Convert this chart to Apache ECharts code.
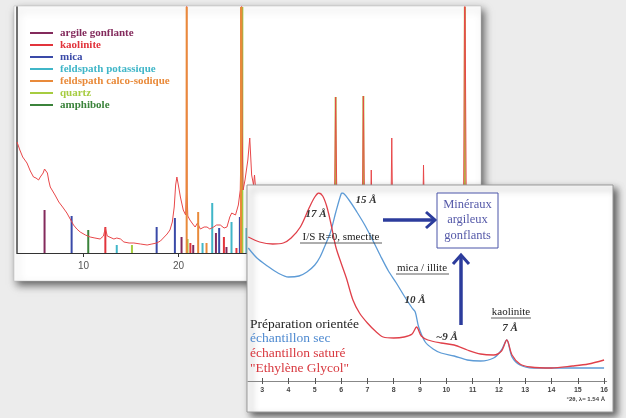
<!DOCTYPE html>
<html><head><meta charset="utf-8">
<script src="https://cdn.jsdelivr.net/npm/echarts@6/dist/echarts.min.js"></script>
<style>html,body{margin:0;padding:0;background:#ececec;}#c{width:626px;height:418px;}</style>
</head><body><div id="c"></div>
<script>
// ---------- Panel 1 : powder pattern (°2θ, intensity in arbitrary units) ----------
const p1Ticks = [10, 20, 30, 40, 50];
const p1Pattern = [[3.0,111],[3.3,103],[3.6,96],[4.05,90],[4.4,82],[4.74,76],[5.0,75],[5.27,73],[5.45,76],[5.6,77],[5.75,80],[5.9,84],[6.05,86],[6.2,80],[6.35,72],[6.5,66],[7.0,58],[7.4,51],[7.8,46],[8.25,40],[8.6,34],[8.95,28],[9.3,24],[9.65,21],[10.2,18],[10.7,16],[11.2,15],[11.75,14],[12.1,17],[12.3,25],[12.5,17],[12.7,15],[13.2,14],[13.5,15],[13.7,17],[13.9,14],[14.25,11],[14.8,10],[15.3,10],[16.0,9],[16.7,8],[17.2,9],[17.7,10],[18.1,12],[18.4,15],[18.8,19],[19.1,23],[19.35,31],[19.55,46],[19.7,68],[19.83,76],[20.0,67],[20.2,56],[20.5,43],[20.75,38],[20.82,60],[20.86,300],[20.9,60],[20.98,37],[21.2,33],[21.5,29],[21.75,26],[22.0,30],[22.3,24],[22.7,26],[23.0,26],[23.3,24],[23.7,26],[24.0,28],[24.4,28],[24.8,25],[25.1,26],[25.4,36],[25.6,40],[25.8,41],[26.0,38],[26.3,48],[26.5,63],[26.6,120],[26.64,300],[26.7,120],[26.8,63],[27.0,73],[27.3,93],[27.5,115],[27.7,78],[27.9,68],[28.0,78],[28.2,55],[28.6,35],[29.5,30],[31,28],[33,27],[35,26],[36.4,28],[36.54,156],[36.7,28],[38,26],[39.35,28],[39.46,157],[39.6,28],[40.2,28],[40.29,83],[40.4,28],[42.35,27],[42.45,115],[42.55,27],[45.7,26],[45.79,88],[45.9,26],[50.0,26],[50.14,300],[50.3,26],[51.5,25]];
const argileGonflante = [[5.9,43],[20.32,16],[21.55,8],[23.94,20],[25.05,6]];
const kaolinite = [[12.3,26],[21.25,10],[24.78,16],[26.1,5]];
const mica = [[8.75,37],[17.7,26],[19.62,35],[24.28,25],[26.46,36]];
const feldspathK = [[13.5,8],[22.53,10],[23.55,50],[25.58,31],[27.16,25]];
const feldspathCaNa = [[20.86,300],[22.07,41],[22.95,10],[26.58,300]];
const quartz = [[15.1,8],[20.95,14],[26.72,300],[36.54,156],[39.46,157],[50.14,300]];
const amphibole = [[10.5,23]];

// ---------- Panel 2 : oriented preparation (°2θ, intensity a.u.) ----------
const p2Ticks = [3,4,5,6,7,8,9,10,11,12,13,14,15,16];
const echantillonSec = [[2.47,133],[2.8,123],[3.2,115],[3.6,108],[4.0,104],[4.4,105],[4.7,109],[5.0,116],[5.2,124],[5.4,136],[5.6,149],[5.8,169],[6.0,187],[6.05,188],[6.3,181],[6.6,169],[6.9,156],[7.2,141],[7.5,125],[7.8,110],[8.1,98],[8.4,85],[8.7,73],[8.82,69],[8.95,54],[9.2,39],[9.5,32],[9.8,28],[10.3,25],[10.8,21],[11.3,20],[11.8,23],[12.1,31],[12.3,41],[12.5,24],[12.8,16],[13.3,13],[14.0,13],[15.0,13],[16.0,13]];
const echantillonGlycol = [[2.47,144],[2.9,139],[3.4,137],[3.8,138],[4.1,143],[4.45,154],[4.8,174],[5.0,184],[5.15,188],[5.3,185],[5.45,175],[5.6,159],[5.8,134],[6.0,118],[6.2,103],[6.45,81],[6.7,68],[7.0,58],[7.3,50],[7.6,44],[8.0,43],[8.4,44],[8.7,47],[8.87,54],[9.05,45],[9.3,41],[9.8,38],[10.3,36],[10.8,31],[11.3,27],[11.8,26],[12.1,30],[12.3,41],[12.5,26],[12.8,17],[13.2,14],[14.0,13],[14.8,15],[15.4,17],[16.0,21]];

const SERIF = '"Liberation Serif","DejaVu Serif",serif';
const NAVY = '#2c3c9c';
const colors = {
  argile:'#832a5c', kaol:'#e2343c', mica:'#3a4aa8', fk:'#40b6c8', fcs:'#e98a3a', qz:'#a6cc40', amph:'#3b833b'
};

function sticks(name, data, color, z) {
  return {type:'bar', name:name, data:data, xAxisIndex:0, yAxisIndex:0, barWidth:2, barGap:'-100%',
          itemStyle:{color:color}, z:z || 3, clip:true, animation:false, silent:true};
}

const chart = echarts.init(document.getElementById('c'), null, {renderer:'canvas'});

const annoText = (x, y, text, extra) => Object.assign({type:'text', x:x, y:y, z:30,
  style:Object.assign({text:text, font:'italic bold 11px ' + SERIF, fill:'#333', align:'center', verticalAlign:'middle'}, extra || {})});

chart.setOption({
  animation:false,
  backgroundColor:'#ececec',
  grid:[
    {left:17, top:7, width:460.75, height:246},
    {left:248, top:193, width:358.7, height:188}
  ],
  xAxis:[
    {gridIndex:0, type:'value', min:3, max:51.5, z:2,
     axisLine:{lineStyle:{color:'#333', width:1.2}},
     axisTick:{customValues:p1Ticks, length:4, lineStyle:{color:'#333'}},
     axisLabel:{customValues:p1Ticks, fontSize:10, color:'#555', margin:8, fontFamily:'Liberation Sans'},
     splitLine:{show:false}},
    {gridIndex:1, type:'value', min:2.46, max:16.1, z:12, position:'bottom',
     axisLine:{lineStyle:{color:'#888', width:1}},
     axisTick:{customValues:p2Ticks, length:3, lineStyle:{color:'#555'}},
     axisLabel:{customValues:p2Ticks, fontSize:7, fontWeight:'bold', color:'#444', margin:6, fontFamily:'Liberation Sans'},
     splitLine:{show:false}},
    {gridIndex:1, type:'value', min:2.46, max:16.1, z:12, position:'bottom',
     axisLine:{show:false},
     axisTick:{customValues:p2Ticks, inside:true, length:3, lineStyle:{color:'#555'}},
     axisLabel:{show:false}, splitLine:{show:false}}
  ],
  yAxis:[
    {gridIndex:0, type:'value', min:0, max:246, z:2,
     axisLine:{show:true, lineStyle:{color:'#444', width:1.5}},
     axisTick:{show:false}, axisLabel:{show:false}, splitLine:{show:false}},
    {gridIndex:1, type:'value', min:0, max:188, z:12,
     axisLine:{show:false}, axisTick:{show:false}, axisLabel:{show:false}, splitLine:{show:false}}
  ],
  legend:{
    orient:'vertical', left:25, top:22, itemWidth:23, itemHeight:2, itemGap:0, icon:'rect', z:5,
    selectedMode:false,
    textStyle:{fontFamily:SERIF, fontWeight:'bold', fontSize:11, lineHeight:12, padding:[0,0,0,2]},
    data:[
      {name:'argile gonflante', textStyle:{color:colors.argile}},
      {name:'kaolinite', textStyle:{color:colors.kaol}},
      {name:'mica', textStyle:{color:colors.mica}},
      {name:'feldspath potassique', textStyle:{color:colors.fk}},
      {name:'feldspath calco-sodique', textStyle:{color:colors.fcs}},
      {name:'quartz', textStyle:{color:colors.qz}},
      {name:'amphibole', textStyle:{color:colors.amph}}
    ]
  },
  series:[
    sticks('argile gonflante', argileGonflante, colors.argile),
    sticks('kaolinite', kaolinite, colors.kaol),
    sticks('mica', mica, colors.mica),
    sticks('feldspath potassique', feldspathK, colors.fk),
    sticks('feldspath calco-sodique', feldspathCaNa, colors.fcs, 5),
    sticks('quartz', quartz, colors.qz),
    sticks('amphibole', amphibole, colors.amph),
    {type:'line', name:'diffractogramme', data:p1Pattern, xAxisIndex:0, yAxisIndex:0, showSymbol:false,
     lineStyle:{color:'#e8484a', width:1}, z:4, clip:true, silent:true},
    {type:'line', name:'échantillon sec', data:echantillonSec, xAxisIndex:1, yAxisIndex:1, showSymbol:false, smooth:0.3,
     lineStyle:{color:'#5d9bd6', width:1.3}, z:13, silent:true},
    {type:'line', name:'échantillon saturé', data:echantillonGlycol, xAxisIndex:1, yAxisIndex:1, showSymbol:false, smooth:0.3,
     lineStyle:{color:'#e0404a', width:1.3}, z:13, silent:true}
  ],
  graphic:[
    // panel backgrounds
    {type:'rect', z:0, shape:{x:14, y:6, width:467, height:275},
     style:{fill:'#ffffff', stroke:'#bbb', lineWidth:0.5, shadowBlur:8, shadowOffsetX:3, shadowOffsetY:4, shadowColor:'rgba(0,0,0,0.6)'}},
    {type:'rect', z:10, shape:{x:247, y:185, width:366, height:227},
     style:{fill:'#ffffff', stroke:'#999', lineWidth:1, shadowBlur:7, shadowOffsetX:4, shadowOffsetY:4, shadowColor:'rgba(0,0,0,0.6)'}},
    // panel 2 annotations
    annoText(316, 214, '17 Å'),
    annoText(366, 200, '15 Å'),
    annoText(341, 237, 'I/S R=0, smectite', {font:'11px ' + SERIF, fill:'#222'}),
    {type:'line', z:30, shape:{x1:300, y1:243, x2:382, y2:243}, style:{stroke:'#333', lineWidth:0.8}},
    annoText(422, 268, 'mica / illite', {font:'11px ' + SERIF, fill:'#222'}),
    {type:'line', z:30, shape:{x1:396, y1:274, x2:449, y2:274}, style:{stroke:'#333', lineWidth:0.8}},
    annoText(415, 300, '10 Å'),
    annoText(447, 337, '~9 Å'),
    annoText(511, 312, 'kaolinite', {font:'11px ' + SERIF, fill:'#222'}),
    {type:'line', z:30, shape:{x1:491, y1:318, x2:531, y2:318}, style:{stroke:'#333', lineWidth:0.8}},
    annoText(510, 328, '7 Å'),
    // horizontal arrow
    {type:'line', z:30, shape:{x1:383, y1:220, x2:434, y2:220}, style:{stroke:NAVY, lineWidth:3.5}},
    {type:'polyline', z:30, shape:{points:[[426,212],[435,220],[426,228]]}, style:{stroke:NAVY, lineWidth:3, fill:null}},
    // vertical arrow
    {type:'line', z:30, shape:{x1:461, y1:325, x2:461, y2:256}, style:{stroke:NAVY, lineWidth:3.5}},
    {type:'polyline', z:30, shape:{points:[[453,264],[461,255],[469,264]]}, style:{stroke:NAVY, lineWidth:3, fill:null}},
    // box
    {type:'rect', z:30, shape:{x:437, y:193, width:61, height:55}, style:{fill:'#fff', stroke:'#4a54a8', lineWidth:1}},
    annoText(467.5, 205, 'Minéraux', {font:'12.5px ' + SERIF, fill:'#5458a8'}),
    annoText(467.5, 220, 'argileux', {font:'12.5px ' + SERIF, fill:'#5458a8'}),
    annoText(467.5, 236, 'gonflants', {font:'12.5px ' + SERIF, fill:'#5458a8'}),
    // sample legend text
    annoText(250, 324, 'Préparation orientée', {font:'13.5px ' + SERIF, fill:'#1e1e1e', align:'left'}),
    annoText(250, 338, 'échantillon sec', {font:'13.5px ' + SERIF, fill:'#4f8ad0', align:'left'}),
    annoText(250, 353, 'échantillon saturé', {font:'13.5px ' + SERIF, fill:'#d8383f', align:'left'}),
    annoText(250, 368, '"Ethylène Glycol"', {font:'13.5px ' + SERIF, fill:'#d8383f', align:'left'}),
    // axis caption
    annoText(605, 399, '°2θ, λ= 1.54 Å', {font:'bold 6px "Liberation Sans",sans-serif', fill:'#444', align:'right'})
  ]
});
</script></body></html>
